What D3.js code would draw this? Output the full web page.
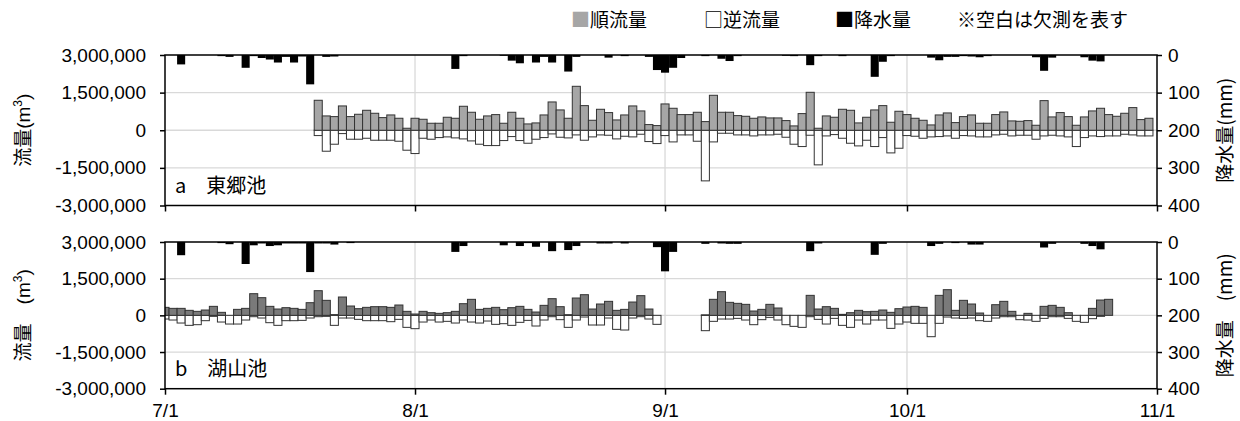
<!DOCTYPE html>
<html>
<head>
<meta charset="utf-8">
<script src="https://cdn.jsdelivr.net/npm/d3@7"></script>
<style>
  body { margin: 0; background: #fff; }
  svg { display: block; }
</style>
</head>
<body>
<svg id="chart"></svg>
<script>
// --- data: one value per day, 7/1 .. 10/31 (flow in 1,000 m3, rain in mm), null = missing ---
const startDay = new Date(2013, 6, 1);
const endDay = new Date(2013, 10, 1);
const monthTicks = ["7/1", "8/1", "9/1", "10/1", "11/1"];

const togoFwd = [
  null, null, null, null, null, null, null, null, null, null,
  null, null, null, null, null, null, null, null, null, 1195,
  571, 544, 969, 544, 637, 796, 677, 504, 610, 478,
  80, 478, 438, 279, 279, 518, 478, 956, 717, 438,
  571, 624, 279, 717, 478, 252, 292, 610, 1128, 810,
  478, 1752, 982, 398, 836, 704, 411, 610, 969, 770,
  226, 186, 1049, 876, 624, 624, 717, 345, 1394, 717,
  717, 584, 557, 478, 531, 491, 491, 385, 173, 664,
  1513, 80, 571, 518, 836, 796, 292, 518, 810, 982,
  319, 757, 624, 478, 398, 212, 610, 690, 305, 544,
  610, 279, 279, 624, 730, 372, 358, 385, 199, 1181,
  531, 704, 544, 199, 531, 770, 876, 624, 557, 677,
  903, 425, 478
];
const togoRev = [
  null, null, null, null, null, null, null, null, null, null,
  null, null, null, null, null, null, null, null, null, 212,
  836, 557, 133, 358, 358, 319, 398, 398, 398, 438,
  796, 929, 319, 358, 292, 265, 305, 345, 425, 557,
  611, 611, 411, 252, 411, 518, 358, 292, 146, 279,
  305, 186, 398, 265, 186, 199, 345, 239, 265, 159,
  451, 531, 212, 465, 186, 186, 438, 2018, 465, 119,
  119, 186, 186, 226, 186, 186, 159, 279, 557, 650,
  199, 1380, 226, 173, 319, 518, 624, 398, 650, 292,
  903, 717, 212, 239, 319, 265, 252, 226, 319, 212,
  226, 265, 265, 186, 159, 226, 199, 199, 358, 226,
  199, 226, 265, 650, 292, 226, 252, 226, 226, 159,
  186, 226, 226
];
const togoRain = [
  0, 0, 25, 0, 0, 0, 0, 3, 5, 0,
  34, 3, 8, 12, 20, 5, 20, 4, 78, 0,
  5, 4, 0, 0, 0, 0, 0, 0, 0, 0,
  0, 0, 0, 0, 0, 0, 37, 3, 0, 0,
  0, 0, 2, 15, 22, 0, 20, 5, 20, 0,
  44, 5, 0, 0, 0, 7, 0, 3, 0, 0,
  5, 40, 47, 34, 8, 0, 0, 3, 0, 10,
  16, 3, 0, 0, 0, 0, 0, 2, 3, 0,
  27, 3, 0, 0, 3, 0, 0, 0, 58, 18,
  3, 0, 0, 0, 0, 7, 14, 5, 5, 3,
  4, 6, 3, 0, 0, 0, 0, 0, 6, 42,
  7, 0, 0, 0, 6, 15, 17, 0, 0, 0,
  0, 0, 0
];

const koyamaFwd = [
  327, 286, 286, 205, 164, 218, 368, 123, 0, 245,
  286, 886, 723, 368, 259, 314, 286, 245, 518, 1009,
  614, 30, 750, 382, 273, 327, 355, 355, 327, 423,
  164, 55, 164, 109, 82, 109, 164, 477, 655, 245,
  286, 327, 232, 314, 368, 245, 136, 409, 682, 355,
  27, 709, 845, 259, 464, 573, 205, 245, 545, 805,
  259, 0, null, null, null, null, null, 20, 655, 968,
  532, 491, 450, 177, 245, 450, 300, 0, 0, 0,
  818, 259, 355, 286, 41, 109, 205, 150, 164, 218,
  123, 273, 341, 368, 327, 0, 818, 1050, 205, 614,
  464, 95, 0, 436, 573, 164, 0, 82, 0, 368,
  409, 327, 109, 0, 0, 286, 627, 655, null, null,
  null, null, null
];
const koyamaRev = [
  150, 191, 314, 409, 382, 218, 41, 273, 355, 355,
  191, 55, 109, 300, 409, 218, 218, 205, 109, 55,
  41, 409, 109, 109, 164, 218, 218, 218, 259, 164,
  491, 545, 273, 191, 273, 245, 314, 191, 273, 314,
  232, 368, 341, 409, 286, 205, 436, 191, 55, 177,
  491, 191, 68, 395, 395, 109, 573, 600, 109, 55,
  150, 368, null, null, null, null, null, 627, 245, 150,
  150, 123, 191, 382, 177, 82, 191, 382, 450, 491,
  55, 164, 355, 123, 409, 491, 191, 355, 191, 191,
  532, 355, 273, 327, 327, 873, 327, 68, 109, 123,
  109, 218, 245, 109, 55, 55, 177, 191, 245, 123,
  55, 55, 123, 245, 286, 136, 41, 0, null, null,
  null, null, null
];
const koyamaRain = [
  0, 0, 36, 0, 0, 0, 0, 3, 6, 0,
  60, 9, 4, 11, 9, 4, 4, 4, 82, 4,
  4, 7, 0, 3, 0, 0, 0, 0, 0, 0,
  0, 0, 0, 0, 0, 0, 27, 11, 0, 0,
  0, 0, 9, 0, 11, 3, 13, 0, 25, 0,
  22, 11, 0, 0, 4, 4, 0, 4, 0, 0,
  0, 14, 80, 27, 0, 0, 0, 5, 0, 4,
  5, 5, 0, 0, 0, 0, 0, 0, 0, 0,
  25, 4, 0, 0, 0, 0, 0, 0, 35, 5,
  0, 0, 0, 0, 0, 11, 5, 0, 3, 0,
  7, 7, 0, 0, 0, 0, 0, 0, 0, 15,
  5, 0, 0, 0, 5, 11, 20, 0, 0, 0,
  0, 0, 0
];

// --- setup ---
const width = 1240;
const height = 421;
const left = 165;
const right = 1157;
const numFont = "'Liberation Sans', Arial, sans-serif";
const jpFont = "'Noto Sans CJK JP', sans-serif";
const fmt = d3.formatLocale({ decimal: ".", thousands: ",", grouping: [3], currency: ["", ""], minus: "-" }).format(",");

const svg = d3.select("#chart").attr("width", width).attr("height", height);

const days = d3.timeDay.range(startDay, endDay);
const x = d3.scaleTime().domain([startDay, endDay]).range([left, right]);
const months = d3.timeMonth.range(startDay, d3.timeDay.offset(endDay, 1));
const halfDay = (x(d3.timeDay.offset(startDay, 1)) - x(startDay)) / 2;

const drawPanel = (cfg) => {
  const { top, bottom, fwd, rev, rain, fwdColor, name, yTitle, rTitle, showDates, id } = cfg;
  const y = d3.scaleLinear().domain([-3000, 3000]).range([bottom, top]);
  const yr = d3.scaleLinear().domain([0, 400]).range([top, bottom]);
  const g = svg.append("g");

  g.append("clipPath").attr("id", id)
    .append("rect").attr("x", left).attr("y", top).attr("width", right - left).attr("height", bottom - top);

  // gridlines
  g.selectAll(".hgrid").data([-1500, 0, 1500]).join("line")
    .attr("x1", left).attr("x2", right)
    .attr("y1", (d) => y(d)).attr("y2", (d) => y(d))
    .attr("stroke", "#d9d9d9").attr("stroke-width", 1.3);
  g.selectAll(".vgrid").data(months.slice(1, -1)).join("line")
    .attr("x1", (d) => x(d)).attr("x2", (d) => x(d))
    .attr("y1", top).attr("y2", bottom)
    .attr("stroke", "#d9d9d9").attr("stroke-width", 1.3);

  const bars = g.append("g").attr("clip-path", `url(#${id})`);

  const revData = days.map((d, i) => ({ d, v: rev[i] })).filter((e) => e.v);
  const fwdData = days.map((d, i) => ({ d, v: fwd[i] })).filter((e) => e.v);
  const rainData = days.map((d, i) => ({ d, v: rain[i] })).filter((e) => e.v);

  // reverse flow (white, below zero)
  bars.selectAll(".rev").data(revData).join("rect")
    .attr("x", (e) => x(e.d) - halfDay)
    .attr("width", halfDay * 2)
    .attr("y", y(0))
    .attr("height", (e) => y(-e.v) - y(0))
    .attr("fill", "#fff").attr("stroke", "#333").attr("stroke-width", 1);

  // forward flow (gray, above zero)
  bars.selectAll(".fwd").data(fwdData).join("rect")
    .attr("x", (e) => x(e.d) - halfDay)
    .attr("width", halfDay * 2)
    .attr("y", (e) => y(e.v))
    .attr("height", (e) => y(0) - y(e.v))
    .attr("fill", fwdColor).attr("stroke", "#333").attr("stroke-width", 1);

  // rainfall hanging from the top
  bars.selectAll(".rain").data(rainData).join("rect")
    .attr("x", (e) => x(e.d) - halfDay)
    .attr("width", halfDay * 2)
    .attr("y", top)
    .attr("height", (e) => yr(e.v) - top)
    .attr("fill", "#000");

  // frame
  g.append("rect")
    .attr("x", left).attr("y", top).attr("width", right - left).attr("height", bottom - top)
    .attr("fill", "none").attr("stroke", "#000").attr("stroke-width", 1.5);

  // left axis
  const yAxis = g.append("g").attr("transform", `translate(${left},0)`)
    .call(d3.axisLeft(y).tickValues([-3000, -1500, 0, 1500, 3000]).tickSize(5).tickPadding(14)
      .tickFormat((d) => fmt(d * 1000)));
  // right axis
  const rAxis = g.append("g").attr("transform", `translate(${right},0)`)
    .call(d3.axisRight(yr).tickValues([0, 100, 200, 300, 400]).tickSize(5).tickPadding(6));
  // bottom axis
  const xAxis = g.append("g").attr("transform", `translate(0,${bottom})`)
    .call(d3.axisBottom(x).tickValues(months).tickSize(6).tickPadding(9)
      .tickFormat((d, i) => (showDates ? monthTicks[i] : "")));

  [yAxis, rAxis, xAxis].forEach((a) => {
    a.select(".domain").remove();
    a.selectAll("line").attr("stroke", "#000").attr("stroke-width", 1.5);
    a.selectAll("text").attr("font-family", numFont).attr("font-size", 19).attr("fill", "#000");
  });

  // panel name
  g.append("text")
    .attr("x", 175).attr("y", bottom - 13)
    .attr("font-family", jpFont).attr("font-size", 20).attr("fill", "#000")
    .text(name);

  // axis titles
  const lt = g.append("text")
    .attr("transform", `translate(30,${(top + bottom) / 2}) rotate(-90)`)
    .attr("text-anchor", "middle")
    .attr("font-family", jpFont).attr("font-size", 19).attr("fill", "#000");
  lt.append("tspan").text(yTitle[0]);
  lt.append("tspan").attr("font-family", numFont).text(yTitle[1]);
  lt.append("tspan").attr("font-family", numFont).attr("font-size", 12).attr("dy", -8).text("3");
  lt.append("tspan").attr("font-family", numFont).attr("dy", 8).text(yTitle[2]);

  g.append("text")
    .attr("transform", `translate(1232,${(top + bottom) / 2}) rotate(-90)`)
    .attr("text-anchor", "middle")
    .attr("font-family", jpFont).attr("font-size", 19).attr("fill", "#000")
    .text(rTitle);
};

drawPanel({
  id: "clipA", top: 55, bottom: 205.5,
  fwd: togoFwd, rev: togoRev, rain: togoRain, fwdColor: "#a6a6a6",
  name: "a\u3000東郷池", yTitle: ["流量", "(m", ")"], rTitle: "降水量(mm)", showDates: false
});
drawPanel({
  id: "clipB", top: 242, bottom: 388.7,
  fwd: koyamaFwd, rev: koyamaRev, rain: koyamaRain, fwdColor: "#7a7a7a",
  name: "b\u3000湖山池", yTitle: ["流量\u3000", "(m", ")"], rTitle: "降水量\u3000(mm)", showDates: true
});

// --- legend ---
const legend = [
  { mark: "■", color: "#a6a6a6", label: "順流量", x: 571 },
  { mark: "□", color: "#000", label: "逆流量", x: 704 },
  { mark: "■", color: "#000", label: "降水量", x: 835 },
  { mark: "", color: "#000", label: "※空白は欠測を表す", x: 957 }
];
legend.forEach((l) => {
  const t = svg.append("text")
    .attr("x", l.x).attr("y", 27)
    .attr("font-family", jpFont).attr("font-size", 19).attr("fill", "#000");
  if (l.mark) t.append("tspan").attr("fill", l.color).text(l.mark);
  t.append("tspan").text(l.label);
});
</script>
</body>
</html>
